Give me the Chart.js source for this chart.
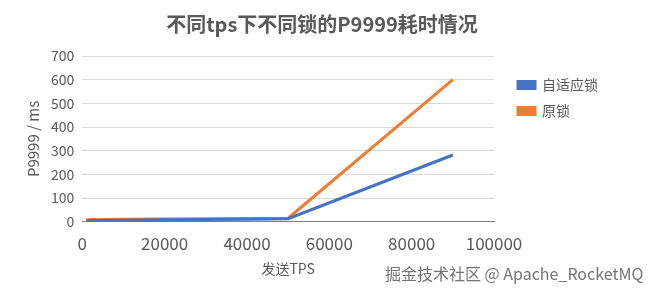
<!DOCTYPE html>
<html>
<head>
<meta charset="utf-8">
<script src="https://cdn.jsdelivr.net/npm/chart.js@4.4.1/dist/chart.umd.min.js"></script>
<style>
  html, body { margin: 0; padding: 0; background: #fff; }
  #wrap { position: relative; width: 648px; height: 294px; }
  #mark {
    position: absolute; left: 385px; top: 261px;
    font-family: "Noto Sans CJK SC", sans-serif; font-size: 16px;
    color: rgba(90, 90, 90, 0.85); white-space: nowrap;
  }
</style>
</head>
<body>
<div id="wrap">
  <canvas id="lockChart" width="648" height="294"></canvas>
  <div id="mark">掘金技术社区 @ Apache_RocketMQ</div>
</div>
<script>
// data
const tpsValues = [1000, 10000, 20000, 30000, 40000, 50000, 90000];
const adaptiveLock = [5, 7, 9, 10, 11, 13, 282];
const originalLock = [9, 11, 12, 13, 14, 15, 600];
const seriesNames = ['自适应锁', '原锁'];
const xTicks = [0, 20000, 40000, 60000, 80000, 100000];
const yTicks = [0, 100, 200, 300, 400, 500, 600, 700];

const FONT = '"Noto Sans CJK SC", "Noto Sans", sans-serif';
const grey = '#595959';

function toPoints(ys) {
    return tpsValues.map((x, i) => ({ x: x, y: ys[i] }));
}

// nudge legend down/right and recentre the title on the whole canvas
const boxShift = {
    id: 'boxShift',
    afterLayout(chart) {
        const lg = chart.legend;
        lg.top += 62; lg.bottom += 62;
        lg.left += 12; lg.right += 12;
        const t = chart.titleBlock;
        t.left += 12; t.right += 12;
    }
};

new Chart(document.getElementById('lockChart'), {
    type: 'line',
    data: {
        datasets: [{
            label: seriesNames[0],
            data: toPoints(adaptiveLock),
            borderColor: '#4472C4',
            backgroundColor: '#4472C4',
            borderWidth: 3,
            pointRadius: 0,
            tension: 0
        }, {
            label: seriesNames[1],
            data: toPoints(originalLock),
            borderColor: '#ED7D31',
            backgroundColor: '#ED7D31',
            borderWidth: 3,
            pointRadius: 0,
            tension: 0
        }]
    },
    options: {
        responsive: false,
        animation: false,
        layout: { padding: { left: 24, right: 52, top: 4, bottom: 13 } },
        plugins: {
            title: {
                display: true,
                text: '不同tps下不同锁的P9999耗时情况',
                color: grey,
                font: { family: FONT, size: 20, weight: 'bold' },
                padding: { top: 8, bottom: 20 }
            },
            legend: {
                position: 'right',
                align: 'start',
                labels: {
                    boxWidth: 17,
                    boxHeight: 7,
                    color: grey,
                    padding: 12,
                    font: { family: FONT, size: 14 }
                }
            },
            tooltip: { enabled: false }
        },
        scales: {
            x: {
                type: 'linear',
                min: 0, max: 100000,
                afterBuildTicks: axis => { axis.ticks = xTicks.map(v => ({ value: v })); },
                ticks: { color: grey, font: { family: FONT, size: 17 }, callback: v => String(v), padding: 4 },
                grid: { display: false },
                border: { color: '#7f7f7f', width: 1 },
                title: { display: true, text: '发送TPS', color: grey, font: { family: FONT, size: 14 }, padding: { top: 2 } }
            },
            y: {
                min: 0, max: 700,
                afterBuildTicks: axis => { axis.ticks = yTicks.map(v => ({ value: v })); },
                ticks: { color: grey, font: { family: FONT, size: 14 }, padding: 8 },
                grid: { color: '#d9d9d9', drawTicks: false },
                border: { display: false },
                title: { display: true, text: 'P9999 / ms', color: grey, font: { family: FONT, size: 15 }, padding: { top: 0, bottom: 1 } }
            }
        }
    },
    plugins: [boxShift]
});
</script>
</body>
</html>
